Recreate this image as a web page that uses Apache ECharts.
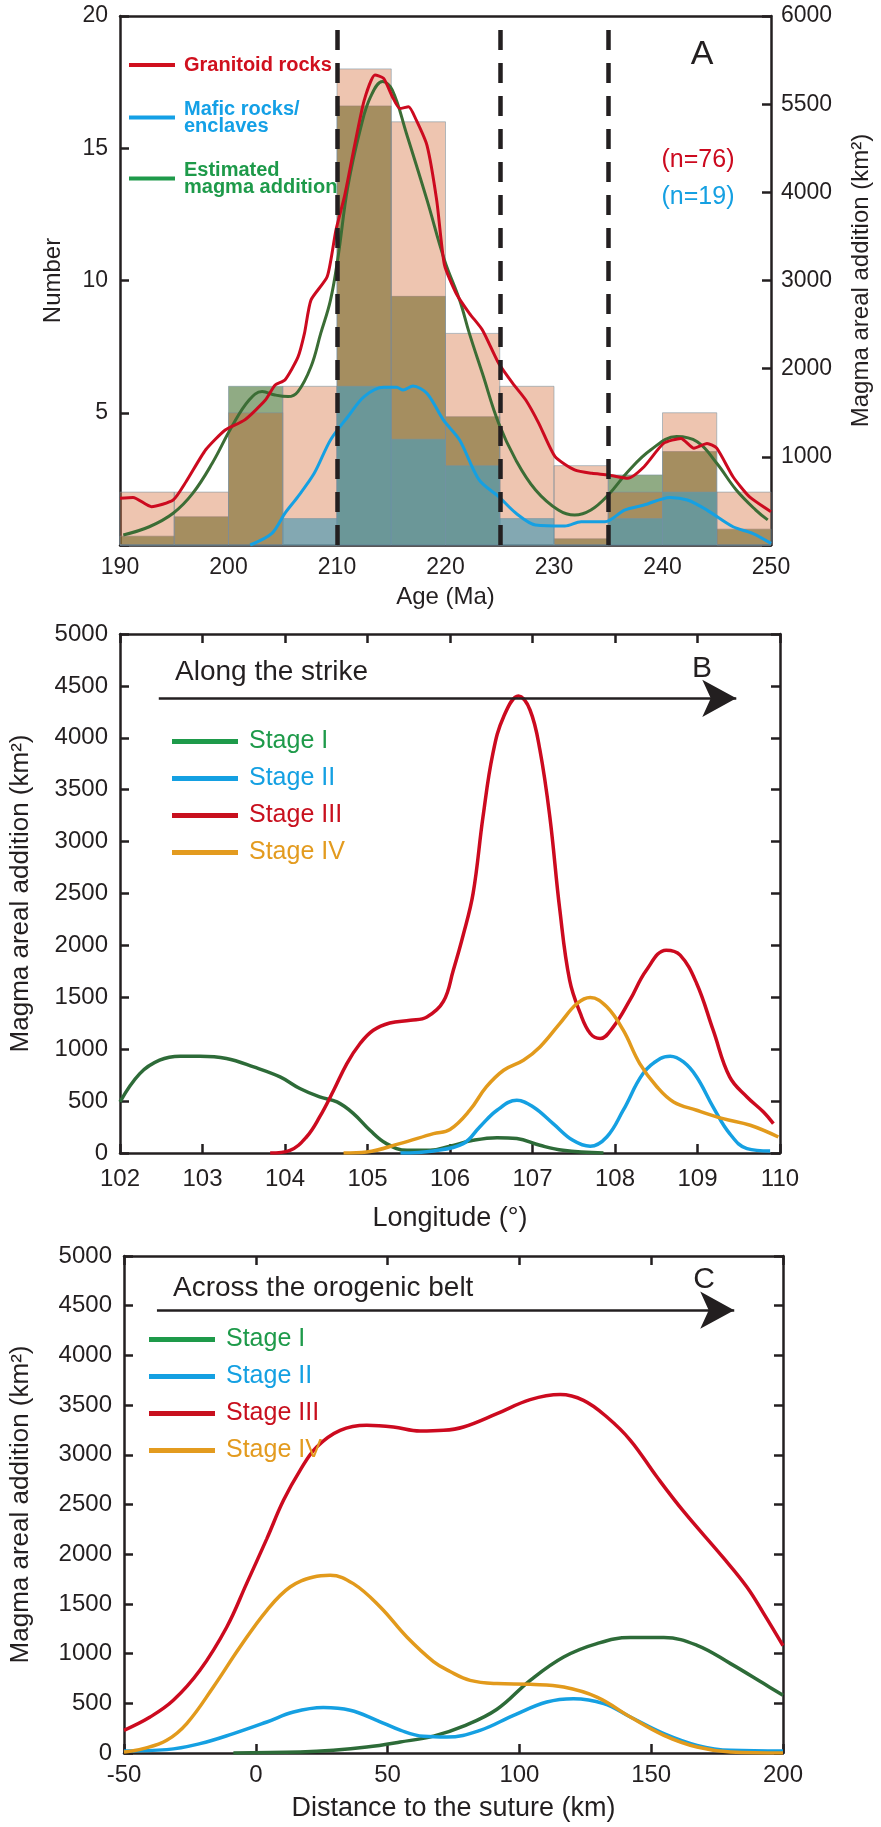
<!DOCTYPE html>
<html>
<head>
<meta charset="utf-8">
<script src="https://cdn.jsdelivr.net/npm/echarts@6/dist/echarts.min.js"></script>
<style>
  html, body { margin: 0; padding: 0; background: #fff; }
  #chart { width: 881px; height: 1827px; }
</style>
</head>
<body>
<div id="chart"></div>
<script>
// ---------- panel A: age histograms + density curves ----------
const binEdges = [190, 195, 200, 205, 210, 215, 220, 225, 230, 235, 240, 245, 250];
const granitoidCounts = [2, 2, 5, 6, 18, 16, 8, 6, 3, 2, 5, 2];
const maficCounts = [0, 0, 0, 1, 6, 4, 3, 1, 0, 1, 2, 0];
const magmaBins = [100, 320, 1800, 0, 4980, 2820, 1455, 0, 70, 795, 1060, 180];

const granX = [190, 191.2, 192.9, 194.9, 196.1, 197.9, 199.7, 201.5, 203.4, 204.3, 205.2, 206.4, 207.0, 207.6, 209.1, 209.9, 210.7, 211.6, 212.5, 213.5, 214.3, 215.1, 215.8, 216.6, 217.3, 218.3, 219.2, 219.9, 221.0, 222.2, 223.4, 224.9, 226.2, 227.4, 228.6, 230.1, 231.9, 233.5, 235.0, 236.8, 238.3, 240.1, 241.7, 242.9, 244.1, 245.0, 246.5, 248.0, 250];
const granY = [1.77, 1.8, 1.45, 1.7, 2.4, 3.6, 4.35, 4.73, 5.48, 6.05, 6.24, 7.1, 8.0, 9.26, 10.15, 11.9, 13.2, 15.06, 16.8, 17.77, 17.64, 16.95, 16.5, 16.57, 16.07, 15.1, 13.0, 10.6, 9.5, 8.76, 8.13, 6.87, 6.11, 5.48, 4.6, 3.34, 2.84, 2.71, 2.65, 2.52, 2.96, 3.84, 4.03, 3.66, 3.84, 3.66, 2.58, 1.83, 1.26];

const maficX = [202.0, 204.0, 205.2, 206.4, 207.9, 209.4, 211.0, 212.5, 214.3, 215.5, 216.1, 217.0, 218.3, 219.8, 221.3, 223.1, 224.9, 226.5, 228.3, 231.0, 232.5, 234.7, 236.5, 238.3, 240.7, 242.3, 244.1, 246.5, 248.3, 250];
const maficY = [0, 0.44, 1.2, 1.83, 2.71, 3.97, 4.85, 5.61, 5.96, 5.96, 5.86, 6.01, 5.73, 4.73, 3.97, 2.46, 1.83, 1.2, 0.76, 0.72, 0.88, 0.88, 1.32, 1.51, 1.8, 1.7, 1.32, 0.69, 0.44, 0.06];

const magmaX = [190.3, 192.7, 194.9, 196.7, 198.5, 200.3, 201.9, 203.1, 204.3, 205.5, 206.4, 207.6, 208.5, 209.4, 210.1, 211.0, 212.2, 213.1, 214.2, 215.1, 216.4, 218.3, 219.9, 221.3, 222.2, 223.4, 224.9, 226.5, 228.3, 230.4, 231.9, 233.4, 235.0, 236.8, 238.9, 241.3, 243.2, 245.0, 246.8, 248.6, 249.7];
const magmaY = [114, 207, 360, 585, 927, 1341, 1644, 1740, 1701, 1683, 1740, 2022, 2400, 2778, 3270, 4065, 4740, 5085, 5256, 5160, 4668, 3912, 3234, 2778, 2400, 1947, 1380, 960, 624, 396, 339, 396, 567, 831, 1077, 1230, 1170, 927, 624, 396, 285];

const stageBoundaries = [210, 225, 235];
const numberTickLabels = ['', '5', '10', '15', '20'];
const magmaTickLabels = ['', '1000', '2000', '3000', '4000', '5500', '6000'];

// ---------- panel B: along the strike ----------
const s1bX = [102.0, 102.24, 102.48, 102.73, 102.97, 103.29, 103.62, 103.94, 104.18, 104.42, 104.63, 104.83, 105.03, 105.23, 105.48, 105.76, 106.0, 106.28, 106.57, 106.81, 107.09, 107.37, 107.86];
const s1bY = [492, 765, 894, 932, 932, 910, 829, 733, 621, 540, 492, 380, 219, 90, 26, 26, 66, 122, 148, 139, 74, 26, 0];
const s2bX = [105.4, 105.8, 106.16, 106.36, 106.57, 106.81, 107.01, 107.25, 107.49, 107.70, 107.90, 108.10, 108.34, 108.55, 108.67, 108.83, 108.99, 109.19, 109.39, 109.6, 109.88];
const s2bY = [0, 20, 90, 251, 412, 508, 443, 283, 122, 65, 154, 412, 765, 910, 932, 877, 733, 443, 187, 42, 19];
const s3bX = [103.82, 104.06, 104.26, 104.42, 104.59, 104.75, 104.91, 105.07, 105.27, 105.52, 105.72, 105.92, 106.04, 106.16, 106.28, 106.40, 106.52, 106.65, 106.83, 106.97, 107.09, 107.21, 107.33, 107.45, 107.58, 107.70, 107.82, 107.98, 108.18, 108.38, 108.62, 108.79, 108.99, 109.19, 109.39, 109.6, 109.8, 109.92];
const s3bY = [0, 26, 154, 347, 604, 862, 1055, 1183, 1253, 1279, 1311, 1460, 1761, 2100, 2501, 3239, 3850, 4203, 4403, 4268, 3882, 3239, 2350, 1665, 1344, 1151, 1103, 1215, 1472, 1761, 1954, 1906, 1633, 1183, 733, 540, 395, 283];
const s4bX = [104.71, 104.99, 105.39, 105.80, 106.0, 106.24, 106.44, 106.65, 106.89, 107.09, 107.33, 107.54, 107.70, 107.90, 108.10, 108.30, 108.51, 108.71, 108.99, 109.31, 109.64, 109.98];
const s4bY = [0, 10, 90, 187, 227, 412, 636, 797, 894, 1022, 1247, 1440, 1498, 1408, 1183, 862, 636, 492, 412, 331, 267, 154];

// ---------- panel C: across the orogenic belt ----------
const s1cX = [-8.5, 16.8, 29.4, 42.1, 54.8, 67.4, 78.8, 91.5, 104.1, 116.8, 129.4, 142.1, 154.8, 167.4, 180.1, 192.7, 200];
const s1cY = [0, 10, 27, 60, 111, 170, 270, 440, 731, 966, 1101, 1161, 1161, 1083, 899, 698, 580];
const s2cX = [-50, -33.8, -21.2, -8.5, 4.2, 14.3, 25.6, 35.8, 45.9, 55.0, 63.6, 72.5, 85.1, 97.8, 110.4, 120.5, 132.0, 142.1, 154.8, 167.4, 180.1, 200];
const s2cY = [20, 34, 94, 195, 312, 412, 457, 430, 329, 228, 168, 160, 228, 379, 513, 547, 497, 362, 195, 77, 27, 20];
const s3cX = [-50, -40.1, -31.3, -21.2, -11.0, -3.5, 4.2, 10.5, 16.8, 23.1, 32.0, 42.1, 52.2, 62.3, 71.2, 78.8, 91.5, 104.1, 115.5, 124.3, 133.2, 142.1, 152.2, 162.3, 177.5, 186.3, 192.7, 200];
const s3cY = [228, 362, 530, 832, 1268, 1704, 2157, 2542, 2844, 3078, 3246, 3297, 3280, 3239, 3246, 3280, 3414, 3555, 3606, 3548, 3380, 3146, 2776, 2430, 1960, 1670, 1402, 1080];
const s4cX = [-50, -42.7, -33.8, -26.2, -16.1, -6.0, 4.2, 13.0, 21.9, 28.2, 37.0, 47.2, 57.3, 67.4, 73.7, 81.3, 91.5, 104.1, 116.8, 129.4, 142.1, 154.8, 167.4, 180.1, 200];
const s4cY = [10, 44, 128, 296, 664, 1066, 1436, 1670, 1771, 1788, 1704, 1469, 1167, 920, 820, 731, 698, 691, 664, 563, 362, 178, 60, 10, 0];

const stageNames = ['Stage I', 'Stage II', 'Stage III', 'Stage IV'];
const strikeArrowX = [102.47, 109.47];
const strikeArrowY = 4380;
const beltArrowX = [-37.5, 181.5];
const beltArrowY = 4455;

// colours
const ink = '#231f20';
const red = '#cc0a1f';
const blue = '#15a0e2';
const curveGreen = '#2d6b38';
const orange = '#e29a1c';
const legendGreen = '#1e9a4a';
const legendColors = [legendGreen, '#14a0e2', '#c8101e', '#e39b1f'];
const font = 'Liberation Sans, Arial, sans-serif';

const zip = (xs, ys) => xs.map((x, i) => [x, ys[i]]);
const bins = (counts) => counts.map((c, i) => [binEdges[i], binEdges[i + 1], c]);

function histSeries(name, data, yAxisIndex, fill) {
  return {
    name: name,
    type: 'custom',
    xAxisIndex: 0,
    yAxisIndex: yAxisIndex,
    encode: { x: [0, 1], y: 2 },
    data: data,
    renderItem: function (params, api) {
      const a = api.coord([api.value(0), api.value(2)]);
      const b = api.coord([api.value(1), 0]);
      return {
        type: 'rect',
        shape: { x: a[0], y: a[1], width: b[0] - a[0], height: b[1] - a[1] },
        style: { fill: fill, stroke: 'rgba(120,145,160,0.55)', lineWidth: 1 }
      };
    }
  };
}

const axisLine = { show: true, onZero: false, lineStyle: { color: ink, width: 2.5 } };
const tickIn = { show: true, inside: true, length: 9, lineStyle: { color: ink, width: 2.5 } };
const noSplit = { show: false };
const label = (size, margin) => ({ color: ink, fontSize: size, margin: margin, fontFamily: font, formatter: v => String(v) });
const nameStyle = (size) => ({ color: ink, fontSize: size, fontFamily: font });

function lineSeries(name, x, y, xi, yi, color, width, smooth) {
  return {
    name: name, type: 'line', xAxisIndex: xi, yAxisIndex: yi,
    data: zip(x, y), symbol: 'none', smooth: smooth,
    lineStyle: { color: color, width: width }, itemStyle: { color: color }
  };
}

const chart = echarts.init(document.getElementById('chart'));

const granitoidLine = lineSeries('Granitoid rocks', granX, granY, 0, 0, red, 3, 0.2);
granitoidLine.markLine = {
  silent: true, symbol: 'none', label: { show: false },
  lineStyle: { color: ink, width: 4.5, type: [20, 13] },
  data: stageBoundaries.map(v => ({ xAxis: v }))
};

const stageB1 = lineSeries('Stage I', s1bX, s1bY, 2, 2, curveGreen, 3.5, 0.4);
stageB1.markLine = {
  silent: true, symbol: ['none', 'arrow'], symbolSize: [28, 34], label: { show: false },
  lineStyle: { color: ink, width: 2.5, type: 'solid' },
  data: [[{ coord: [strikeArrowX[0], strikeArrowY] }, { coord: [strikeArrowX[1], strikeArrowY] }]]
};
const stageC1 = lineSeries('Stage I', s1cX, s1cY, 4, 4, curveGreen, 3.5, 0.4);
stageC1.markLine = {
  silent: true, symbol: ['none', 'arrow'], symbolSize: [28, 34], label: { show: false },
  lineStyle: { color: ink, width: 2.5, type: 'solid' },
  data: [[{ coord: [beltArrowX[0], beltArrowY] }, { coord: [beltArrowX[1], beltArrowY] }]]
};

const stageLegend = (left, top) => ({
  left: left, top: top, orient: 'vertical', icon: 'rect',
  itemWidth: 66, itemHeight: 5, itemGap: 12, selectedMode: false,
  textStyle: { fontSize: 25, fontFamily: font, padding: [0, 0, 0, 6] },
  data: stageNames.map((n, i) => ({
    name: n, itemStyle: { color: legendColors[i] }, textStyle: { color: legendColors[i] }
  }))
});

chart.setOption({
  animation: false,
  backgroundColor: '#fff',
  textStyle: { fontFamily: font },
  grid: [
    { left: 120, top: 16, width: 658, height: 529 },
    { left: 120, top: 634, width: 660, height: 519 },
    { left: 124, top: 1256, width: 659, height: 497 }
  ],
  xAxis: [
    { gridIndex: 0, type: 'value', min: 190, max: 250, interval: 10, position: 'bottom',
      axisLine: axisLine, axisTick: { show: false }, axisLabel: label(23, 11), splitLine: noSplit,
      name: 'Age (Ma)', nameLocation: 'middle', nameGap: 40, nameTextStyle: nameStyle(24) },
    { gridIndex: 0, type: 'value', min: 190, max: 250, position: 'top',
      axisLine: axisLine, axisTick: { show: false }, axisLabel: { show: false }, splitLine: noSplit },
    { gridIndex: 1, type: 'value', min: 102, max: 110, interval: 1, position: 'bottom',
      axisLine: axisLine, axisTick: tickIn, axisLabel: label(24, 14), splitLine: noSplit,
      name: 'Longitude (°)', nameLocation: 'middle', nameGap: 52, nameTextStyle: nameStyle(27) },
    { gridIndex: 1, type: 'value', min: 102, max: 110, interval: 1, position: 'top',
      axisLine: axisLine, axisTick: tickIn, axisLabel: { show: false }, splitLine: noSplit },
    { gridIndex: 2, type: 'value', min: -50, max: 200, interval: 50, position: 'bottom',
      axisLine: axisLine, axisTick: tickIn, axisLabel: label(24, 10), splitLine: noSplit,
      name: 'Distance to the suture (km)', nameLocation: 'middle', nameGap: 42, nameTextStyle: nameStyle(27) },
    { gridIndex: 2, type: 'value', min: -50, max: 200, interval: 50, position: 'top',
      axisLine: axisLine, axisTick: tickIn, axisLabel: { show: false }, splitLine: noSplit }
  ],
  yAxis: [
    { gridIndex: 0, type: 'value', min: 0, max: 20, interval: 5, position: 'left',
      axisLine: axisLine, axisTick: tickIn, splitLine: noSplit,
      axisLabel: Object.assign(label(23, 12), { formatter: v => numberTickLabels[v / 5] }),
      name: 'Number', nameLocation: 'middle', nameRotate: 90, nameGap: 55, nameTextStyle: nameStyle(24) },
    { gridIndex: 0, type: 'value', min: 0, max: 6000, interval: 1000, position: 'right',
      axisLine: axisLine, axisTick: tickIn, splitLine: noSplit,
      axisLabel: Object.assign(label(23, 10), { formatter: v => magmaTickLabels[v / 1000] }),
      name: 'Magma areal addition (km²)', nameLocation: 'middle', nameRotate: 90, nameGap: 78,
      nameTextStyle: nameStyle(24) },
    { gridIndex: 1, type: 'value', min: 0, max: 5000, interval: 500, position: 'left',
      axisLine: axisLine, axisTick: tickIn, splitLine: noSplit, axisLabel: label(24, 12),
      name: 'Magma areal addition (km²)', nameLocation: 'middle', nameRotate: 90, nameGap: 86,
      nameTextStyle: nameStyle(26) },
    { gridIndex: 1, type: 'value', min: 0, max: 5000, interval: 500, position: 'right',
      axisLine: axisLine, axisTick: tickIn, splitLine: noSplit, axisLabel: { show: false } },
    { gridIndex: 2, type: 'value', min: 0, max: 5000, interval: 500, position: 'left',
      axisLine: axisLine, axisTick: tickIn, splitLine: noSplit, axisLabel: label(24, 12),
      name: 'Magma areal addition (km²)', nameLocation: 'middle', nameRotate: 90, nameGap: 90,
      nameTextStyle: nameStyle(26) },
    { gridIndex: 2, type: 'value', min: 0, max: 5000, interval: 500, position: 'right',
      axisLine: axisLine, axisTick: tickIn, splitLine: noSplit, axisLabel: { show: false } }
  ],
  legend: [
    { left: 124, top: 50, orient: 'vertical', icon: 'rect', itemWidth: 46, itemHeight: 4,
      itemGap: 24, selectedMode: false,
      textStyle: { fontSize: 20, fontWeight: 'bold', lineHeight: 17, fontFamily: font, padding: [0, 0, 0, 4] },
      data: [
        { name: 'Granitoid rocks', itemStyle: { color: '#d0101e' }, textStyle: { color: '#d0101e' } },
        { name: 'Mafic rocks/\nenclaves', itemStyle: { color: '#14a0e6' }, textStyle: { color: '#14a0e6' } },
        { name: 'Estimated\nmagma addition', itemStyle: { color: legendGreen }, textStyle: { color: legendGreen } }
      ] },
    stageLegend(167, 724),
    stageLegend(144, 1322)
  ],
  graphic: [
    { type: 'text', x: 702, y: 55, style: { text: 'A', fontSize: 34, fontFamily: font, fill: ink, align: 'center', verticalAlign: 'middle' } },
    { type: 'text', x: 698, y: 160, style: { text: '(n=76)', fontSize: 25, fontFamily: font, fill: red, align: 'center', verticalAlign: 'middle' } },
    { type: 'text', x: 698, y: 197, style: { text: '(n=19)', fontSize: 25, fontFamily: font, fill: blue, align: 'center', verticalAlign: 'middle' } },
    { type: 'text', x: 175, y: 672, style: { text: 'Along the strike', fontSize: 28, fontFamily: font, fill: ink, align: 'left', verticalAlign: 'middle' } },
    { type: 'text', x: 702, y: 669, style: { text: 'B', fontSize: 30, fontFamily: font, fill: ink, align: 'center', verticalAlign: 'middle' } },
    { type: 'text', x: 173, y: 1288, style: { text: 'Across the orogenic belt', fontSize: 28, fontFamily: font, fill: ink, align: 'left', verticalAlign: 'middle' } },
    { type: 'text', x: 704, y: 1280, style: { text: 'C', fontSize: 30, fontFamily: font, fill: ink, align: 'center', verticalAlign: 'middle' } }
  ],
  series: [
    histSeries('magma bins', bins(magmaBins), 1, 'rgba(70,115,50,0.6)'),
    histSeries('granitoid bins', bins(granitoidCounts), 0, 'rgba(206,90,30,0.35)'),
    histSeries('mafic bins', bins(maficCounts), 0, 'rgba(80,155,178,0.68)'),
    lineSeries('Estimated\nmagma addition', magmaX, magmaY, 0, 1, '#3b6d35', 3, 0.4),
    lineSeries('Mafic rocks/\nenclaves', maficX, maficY, 0, 0, blue, 3, 0.3),
    granitoidLine,
    stageB1,
    lineSeries('Stage II', s2bX, s2bY, 2, 2, blue, 3.5, 0.4),
    lineSeries('Stage III', s3bX, s3bY, 2, 2, red, 3.5, 0.4),
    lineSeries('Stage IV', s4bX, s4bY, 2, 2, orange, 3.5, 0.4),
    stageC1,
    lineSeries('Stage II', s2cX, s2cY, 4, 4, blue, 3.5, 0.4),
    lineSeries('Stage III', s3cX, s3cY, 4, 4, red, 3.5, 0.4),
    lineSeries('Stage IV', s4cX, s4cY, 4, 4, orange, 3.5, 0.4)
  ]
});
</script>
</body>
</html>
